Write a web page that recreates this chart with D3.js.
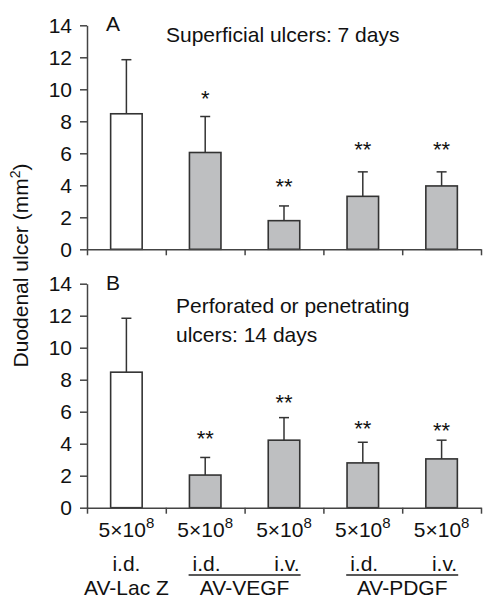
<!DOCTYPE html>
<html>
<head>
<meta charset="utf-8">
<script src="https://cdn.jsdelivr.net/npm/d3@7"></script>
<style>
  body { margin: 0; background: #fff; }
  svg { display: block; font-family: "Liberation Sans", Arial, Helvetica, sans-serif; }
</style>
</head>
<body>
<div id="chart"></div>
<script>
// Data
const categories = ['lacz-id', 'vegf-id', 'vegf-iv', 'pdgf-id', 'pdgf-iv'];
const routes = ['i.d.', 'i.d.', 'i.v.', 'i.d.', 'i.v.'];
const groups = [
    { name: 'AV-VEGF', from: 1, to: 2 },
    { name: 'AV-PDGF', from: 3, to: 4 }
];
const yTicks = [0, 2, 4, 6, 8, 10, 12, 14];

// Panel A: superficial ulcers, 7 days
const superficialMean = [8.47, 6.05, 1.79, 3.31, 3.96];
const superficialSE = [3.38, 2.25, 0.92, 1.53, 0.88];
const superficialStars = ['', '*', '**', '**', '**'];
const superficialStarAt = [0, 9.75, 4.27, 6.58, 6.58];

// Panel B: perforated or penetrating ulcers, 14 days
const perforatedMean = [8.47, 2.04, 4.22, 2.80, 3.05];
const perforatedSE = [3.37, 1.10, 1.41, 1.29, 1.17];
const perforatedStars = ['', '**', '**', '**', '**'];
const perforatedStarAt = [0, 4.61, 6.87, 5.29, 5.12];

const width = 485, height = 600;
const fontSize = 21;
const axisColor = '#444';
const barStroke = '#333';
const grayFill = '#bebfc1';

const svg = d3.select('#chart').append('svg')
    .attr('width', width)
    .attr('height', height);

const x = d3.scaleBand()
    .domain(categories)
    .range([87, 481])
    .paddingInner(0)
    .paddingOuter(0);
const barW = x.bandwidth() * 0.4;

// band boundaries for the x ticks
const xEdge = d3.scaleLinear().domain([0, categories.length]).range(x.range());

function drawPanel(top, bottom, means, ses, stars, starAt, letter, titleLines, titleX) {
    const y = d3.scaleLinear().domain([0, 14]).range([bottom, top]);
    const g = svg.append('g');

    // bars
    g.selectAll('rect.bar')
        .data(means)
        .join('rect')
        .attr('class', 'bar')
        .attr('x', (d, i) => x(categories[i]) + (x.bandwidth() - barW) / 2)
        .attr('y', d => y(d))
        .attr('width', barW)
        .attr('height', d => y(0) - y(d))
        .attr('fill', (d, i) => i === 0 ? '#fff' : grayFill)
        .attr('stroke', barStroke)
        .attr('stroke-width', 1.6);

    // upper error bars
    const cx = i => x(categories[i]) + x.bandwidth() / 2;
    g.selectAll('line.err')
        .data(means)
        .join('line')
        .attr('class', 'err')
        .attr('x1', (d, i) => cx(i))
        .attr('x2', (d, i) => cx(i))
        .attr('y1', d => y(d))
        .attr('y2', (d, i) => y(d + ses[i]))
        .attr('stroke', barStroke)
        .attr('stroke-width', 1.5);
    g.selectAll('line.cap')
        .data(means)
        .join('line')
        .attr('class', 'cap')
        .attr('x1', (d, i) => cx(i) - 5)
        .attr('x2', (d, i) => cx(i) + 5)
        .attr('y1', (d, i) => y(d + ses[i]))
        .attr('y2', (d, i) => y(d + ses[i]))
        .attr('stroke', barStroke)
        .attr('stroke-width', 1.5);

    // significance stars
    g.selectAll('text.star')
        .data(stars)
        .join('text')
        .attr('class', 'star')
        .attr('x', (d, i) => cx(i))
        .attr('y', (d, i) => y(starAt[i]))
        .attr('dy', '0.57em')
        .attr('text-anchor', 'middle')
        .attr('font-size', 22)
        .attr('fill', '#111')
        .text(d => d);

    // y axis
    const yAxis = g.append('g')
        .attr('transform', 'translate(87,0)')
        .call(d3.axisLeft(y).tickValues(yTicks).tickSize(7).tickSizeOuter(0).tickPadding(8));
    yAxis.selectAll('text').attr('font-size', fontSize).attr('fill', '#111').attr('font-family', null);
    yAxis.selectAll('line, path').attr('stroke', axisColor).attr('stroke-width', 1.5);

    // x axis
    const xAxis = g.append('g')
        .attr('transform', `translate(0,${bottom})`)
        .call(d3.axisBottom(xEdge).ticks(categories.length).tickSize(6).tickSizeOuter(0).tickFormat(''));
    xAxis.selectAll('line, path').attr('stroke', axisColor).attr('stroke-width', 1.5);

    // panel letter and title
    g.append('text')
        .attr('x', 113).attr('y', top + 6)
        .attr('text-anchor', 'middle')
        .attr('font-size', fontSize)
        .attr('fill', '#111')
        .text(letter);
    g.append('text')
        .attr('font-size', fontSize)
        .attr('fill', '#111')
        .selectAll('tspan')
        .data(titleLines)
        .join('tspan')
        .attr('x', titleX)
        .attr('y', (d, i) => top + (titleLines.length > 1 ? 29 : 17) + i * 29)
        .text(d => d);
}

drawPanel(25.3, 249.3, superficialMean, superficialSE, superficialStars, superficialStarAt,
    'A', ['Superficial ulcers: 7 days'], 166);
drawPanel(283.7, 507.7, perforatedMean, perforatedSE, perforatedStars, perforatedStarAt,
    'B', ['Perforated or penetrating', 'ulcers: 14 days'], 176);

// y axis title
const yTitle = svg.append('text')
    .attr('transform', 'translate(28,265.5) rotate(-90)')
    .attr('text-anchor', 'middle')
    .attr('font-size', fontSize)
    .attr('fill', '#111');
yTitle.append('tspan').text('Duodenal ulcer (mm');
yTitle.append('tspan').attr('font-size', 14).attr('dy', -8).text('2');
yTitle.append('tspan').attr('dy', 8).text(')');

// dose labels
const dose = svg.append('g').selectAll('text')
    .data(categories)
    .join('text')
    .attr('x', d => x(d) + x.bandwidth() / 2)
    .attr('y', 537)
    .attr('text-anchor', 'middle')
    .attr('font-size', fontSize)
    .attr('fill', '#111');
dose.append('tspan').text('5\u00d710');
dose.append('tspan').attr('font-size', 15).attr('dy', -9).text('8');

// control label
svg.append('text')
    .attr('x', x(categories[0]) + x.bandwidth() / 2)
    .attr('y', 571)
    .attr('text-anchor', 'middle')
    .attr('font-size', fontSize)
    .attr('fill', '#111')
    .text(routes[0]);
svg.append('text')
    .attr('x', x(categories[0]) + x.bandwidth() / 2)
    .attr('y', 595)
    .attr('text-anchor', 'middle')
    .attr('font-size', fontSize)
    .attr('fill', '#111')
    .text('AV-Lac Z');

// grouped labels with underline
groups.forEach(gr => {
    const mid = xEdge(gr.to);
    const x0 = mid - 56, x1 = mid + 56;
    svg.append('line')
        .attr('x1', x0).attr('x2', x1)
        .attr('y1', 575).attr('y2', 575)
        .attr('stroke', '#222').attr('stroke-width', 1.3);
    svg.append('text')
        .attr('x', x0 + 4).attr('y', 571)
        .attr('font-size', fontSize).attr('fill', '#111')
        .text(routes[gr.from]);
    svg.append('text')
        .attr('x', x1 - 1).attr('y', 571)
        .attr('text-anchor', 'end')
        .attr('font-size', fontSize).attr('fill', '#111')
        .text(routes[gr.to]);
    svg.append('text')
        .attr('x', mid).attr('y', 595)
        .attr('text-anchor', 'middle')
        .attr('font-size', fontSize).attr('fill', '#111')
        .text(gr.name);
});
</script>
</body>
</html>
